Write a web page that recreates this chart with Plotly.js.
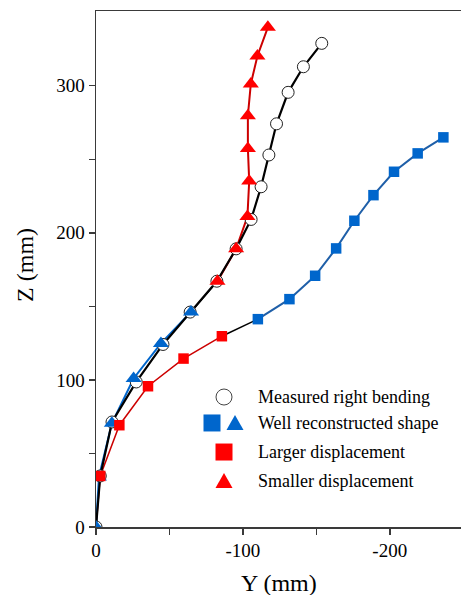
<!DOCTYPE html>
<html>
<head>
<meta charset="utf-8">
<script src="https://cdn.plot.ly/plotly-3.0.1.min.js"></script>
<style>html,body{margin:0;padding:0;background:#fff;}#chart{width:461px;height:595px;}</style>
</head>
<body>
<div id="chart"></div>
<script>
// Measured right bending (circles)
const measuredY = [0, -2.9, -10.9, -27.4, -45.6, -64.1, -82.3, -95.4, -105.6, -112.4, -117.7, -122.9, -130.8, -141.2, -153.7];
const measuredZ = [0, 34.7, 71.4, 98.6, 124.1, 146.1, 167.1, 189.1, 209.1, 231.3, 252.9, 274.1, 295.5, 312.9, 328.8];
// Smaller displacement: well reconstructed part (blue triangles) + deviating part (red triangles)
const triBlueY = [0, -2.0, -10.8, -25.6, -44.2, -64.7];
const triBlueZ = [0, 34.0, 70.5, 101.0, 124.8, 146.2];
const triRedY = [-82.7, -95.4, -103.1, -104.3, -103.4, -103.4, -105.4, -109.9, -117.0];
const triRedZ = [167.1, 189.1, 211.1, 235.2, 257.4, 279.6, 301.2, 320.2, 339.7];
// Larger displacement: deviating part (red squares) + well reconstructed part (blue squares)
const sqRedY = [0, -2.9, -15.9, -35.4, -59.6, -85.7];
const sqRedZ = [0, 34.7, 69.2, 95.7, 114.5, 129.7];
const sqBlueY = [-110.2, -131.7, -149.2, -163.5, -175.9, -188.9, -202.9, -219.0, -236.5];
const sqBlueZ = [141.3, 154.9, 170.8, 189.4, 208.2, 225.6, 241.5, 254.0, 264.9];

const legendLabels = ["Measured right bending", "Well reconstructed shape", "Larger displacement", "Smaller displacement"];
const xTitle = "Y (mm)", yTitle = "Z (mm)";
const xTicks = [0, -50, -100, -150, -200];
const xTickText = ["0", "", "-100", "", "-200"];
const yTicks = [0, 50, 100, 150, 200, 250, 300];
const yTickText = ["0", "", "100", "", "200", "", "300"];

const BLUE = "#0066CC", RED = "#FF0000";
const last = a => a[a.length - 1];

const traces = [
  {x: sqRedY, y: sqRedZ, mode: "lines", line: {color: "#CC0000", width: 1.5}},
  {x: [last(sqRedY), sqBlueY[0]], y: [last(sqRedZ), sqBlueZ[0]], mode: "lines", line: {color: "#000", width: 1.5}},
  {x: sqBlueY, y: sqBlueZ, mode: "lines", line: {color: "#1F5FA8", width: 2}},
  {x: triBlueY, y: triBlueZ, mode: "lines", line: {color: BLUE, width: 2}},
  {x: [last(triBlueY), triRedY[0]], y: [last(triBlueZ), triRedZ[0]], mode: "lines", line: {color: "#000", width: 1.5}},
  {x: triRedY, y: triRedZ, mode: "lines", line: {color: "#CC0000", width: 2}},
  {x: measuredY, y: measuredZ, mode: "lines+markers", line: {color: "#000", width: 2.2},
   marker: {symbol: "circle", size: 12, color: "#fff", line: {color: "#222", width: 1}}},
  {x: triBlueY, y: triBlueZ, mode: "markers", marker: {symbol: "triangle-up", size: 14, color: BLUE}},
  {x: triRedY, y: triRedZ, mode: "markers", marker: {symbol: "triangle-up", size: 14, color: RED}},
  {x: sqRedY.slice(1), y: sqRedZ.slice(1), mode: "markers", marker: {symbol: "square", size: 10.5, color: RED}},
  {x: sqBlueY, y: sqBlueZ, mode: "markers", marker: {symbol: "square", size: 10.5, color: BLUE}}
].map(t => Object.assign({showlegend: false, hoverinfo: "skip", cliponaxis: true}, t));

// custom legend (paper coordinates)
const legX = 0.3507, legTextX = 0.4384;
const rowY = [0.2519, 0.2016, 0.1453, 0.0891];
const tri = "M -8.5 -7 L 8.5 -7 L 0 8 Z";
const shapes = [
  {type: "circle", xref: "paper", yref: "paper", xsizemode: "pixel", ysizemode: "pixel",
   xanchor: legX, yanchor: rowY[0], x0: -8, x1: 8, y0: -8, y1: 8, fillcolor: "#fff", line: {color: "#444", width: 1}},
  {type: "rect", xref: "paper", yref: "paper", xsizemode: "pixel", ysizemode: "pixel",
   xanchor: 0.3178, yanchor: rowY[1], x0: -8.5, x1: 8.5, y0: -8.5, y1: 8.5, fillcolor: BLUE, line: {width: 0}},
  {type: "path", xref: "paper", yref: "paper", xsizemode: "pixel", ysizemode: "pixel",
   xanchor: 0.3808, yanchor: rowY[1], path: tri, fillcolor: BLUE, line: {width: 0}},
  {type: "rect", xref: "paper", yref: "paper", xsizemode: "pixel", ysizemode: "pixel",
   xanchor: legX, yanchor: rowY[2], x0: -8.5, x1: 8.5, y0: -8.5, y1: 8.5, fillcolor: RED, line: {width: 0}},
  {type: "path", xref: "paper", yref: "paper", xsizemode: "pixel", ysizemode: "pixel",
   xanchor: legX, yanchor: rowY[3], path: tri, fillcolor: RED, line: {width: 0}}
];
const annotations = legendLabels.map((t, i) => ({
  text: t, xref: "paper", yref: "paper", x: legTextX, y: rowY[i], xanchor: "left", yanchor: "middle",
  showarrow: false, font: {family: "Liberation Serif", size: 18, color: "#000"}
}));
annotations.push(
  {text: xTitle, xref: "paper", yref: "paper", x: 0.5, y: -0.1085, xanchor: "center", yanchor: "middle",
   showarrow: false, font: {family: "Liberation Serif", size: 24, color: "#000"}},
  {text: yTitle, xref: "paper", yref: "paper", x: -0.1945, y: 0.508, xanchor: "center", yanchor: "middle",
   textangle: -90, showarrow: false, font: {family: "Liberation Serif", size: 24, color: "#000"}}
);

const layout = {
  width: 461, height: 595,
  margin: {l: 96, r: 0, t: 11, b: 68},
  paper_bgcolor: "#fff", plot_bgcolor: "#fff",
  font: {family: "Liberation Serif", color: "#000"},
  xaxis: {
    range: [0, -248.5], showgrid: false, zeroline: false,
    showline: true, linecolor: "#3a3a3a", linewidth: 1.5, mirror: true,
    ticks: "outside", ticklen: 6, tickwidth: 1.5, tickcolor: "#3a3a3a",
    tickvals: xTicks, ticktext: xTickText, tickfont: {size: 19}
  },
  yaxis: {
    range: [0, 350.8], showgrid: false, zeroline: false,
    showline: true, linecolor: "#3a3a3a", linewidth: 1.5, mirror: false,
    ticks: "outside", ticklen: 6, tickwidth: 1.5, tickcolor: "#3a3a3a",
    tickvals: yTicks, ticktext: yTickText, tickfont: {size: 19}
  },
  shapes: shapes,
  annotations: annotations
};

Plotly.newPlot("chart", traces, layout, {staticPlot: true, displayModeBar: false});
</script>
</body>
</html>
